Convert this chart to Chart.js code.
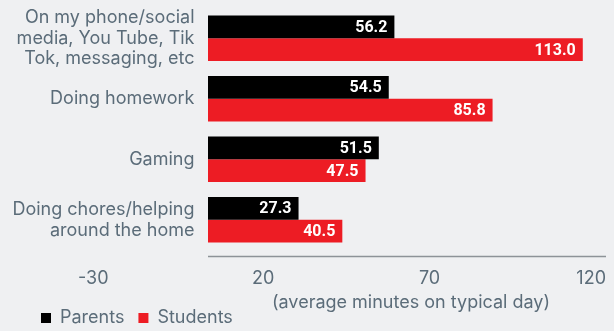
<!DOCTYPE html>
<html>
<head>
<meta charset="utf-8">
<script src="https://cdn.jsdelivr.net/npm/chart.js@4.4.1/dist/chart.umd.min.js"></script>
<style>
  html, body { margin: 0; padding: 0; background: #eff0f2; }
  #wrap { width: 614px; height: 331px; position: relative; }
</style>
</head>
<body>
<div id="wrap"><canvas id="timeChart"></canvas></div>
<script>
const categories = [
  ['On my phone/social', 'media, You Tube, Tik', 'Tok, messaging, etc'],
  'Doing homework',
  'Gaming',
  ['Doing chores/helping', 'around the home']
];
const parentMinutes = [56.2, 54.5, 51.5, 27.3];
const studentMinutes = [113.0, 85.8, 47.5, 40.5];
const xTicks = [-30, 20, 70, 120];
const axisCaption = '(average minutes on typical day)';

const slate = '#5b6c79';
const family = 'Inter, "Open Sans", sans-serif';
Chart.defaults.font.family = family;
Chart.defaults.color = slate;

// category labels are mirrored into the plot and right-aligned just left of zero,
// so the padding depends on the widest line
const measure = document.createElement('canvas').getContext('2d');
measure.font = '18px ' + family;
const widestLabel = Math.max(...categories.flat().map(t => measure.measureText(t).width));

// white value text at the inner end of each bar
const barValues = {
  id: 'barValues',
  afterDatasetsDraw(chart) {
    const ctx = chart.ctx;
    ctx.save();
    ctx.font = 'bold 16px Roboto, sans-serif';
    ctx.fillStyle = '#ffffff';
    ctx.textAlign = 'right';
    ctx.textBaseline = 'middle';
    chart.data.datasets.forEach((ds, i) => {
      chart.getDatasetMeta(i).data.forEach((bar, j) => {
        ctx.fillText(ds.data[j].toFixed(1), bar.x - 7, bar.y + 1);
      });
    });
    ctx.restore();
  }
};

// axis line only runs from zero to the max; caption sits under that span
const zeroAxis = {
  id: 'zeroAxis',
  afterDraw(chart) {
    const { ctx, chartArea, scales: { x } } = chart;
    const x0 = x.getPixelForValue(0);
    const x1 = x.getPixelForValue(x.max);
    const y = chartArea.bottom + 6.5;
    ctx.save();
    ctx.strokeStyle = '#8d9398';
    ctx.lineWidth = 1.5;
    ctx.beginPath();
    ctx.moveTo(x0, y);
    ctx.lineTo(x1, y);
    ctx.stroke();
    ctx.font = '18px ' + family;
    ctx.fillStyle = slate;
    ctx.textAlign = 'center';
    ctx.textBaseline = 'middle';
    ctx.fillText(axisCaption, (x0 + x1) / 2 + 4, chartArea.bottom + 53);
    ctx.restore();
  }
};

new Chart(document.getElementById('timeChart'), {
  type: 'bar',
  data: {
    labels: categories,
    datasets: [
      { label: 'Parents', data: parentMinutes, backgroundColor: '#000000', borderWidth: 0 },
      { label: 'Students', data: studentMinutes, backgroundColor: '#ed1c24', borderWidth: 0 }
    ]
  },
  options: {
    indexAxis: 'y',
    responsive: true,
    maintainAspectRatio: false,
    animation: false,
    datasets: { bar: { categoryPercentage: 0.754, barPercentage: 1 } },
    layout: { padding: { top: 8, left: 27, right: 8, bottom: -6 } },
    plugins: {
      legend: {
        position: 'bottom',
        align: 'start',
        labels: { boxWidth: 10, boxHeight: 10, padding: 14, font: { size: 18 }, color: slate }
      },
      tooltip: { enabled: false }
    },
    scales: {
      x: {
        min: -30,
        max: 120,
        afterBuildTicks: s => { s.ticks = xTicks.map(v => ({ value: v })); },
        afterFit: s => { s.height = 45; },
        grid: { display: false, drawTicks: true, tickLength: 10 },
        border: { display: false },
        ticks: { align: 'end', padding: 8, font: { size: 18 }, color: slate }
      },
      y: {
        afterFit: s => { s.width = 81.5; },
        grid: { display: false, drawTicks: false },
        border: { display: false },
        ticks: {
          mirror: true,
          crossAlign: 'far',
          autoSkip: false,
          padding: 86 - widestLabel,
          font: { size: 18, lineHeight: 1.15 },
          color: slate
        }
      }
    }
  },
  plugins: [barValues, zeroAxis]
});
</script>
</body>
</html>
